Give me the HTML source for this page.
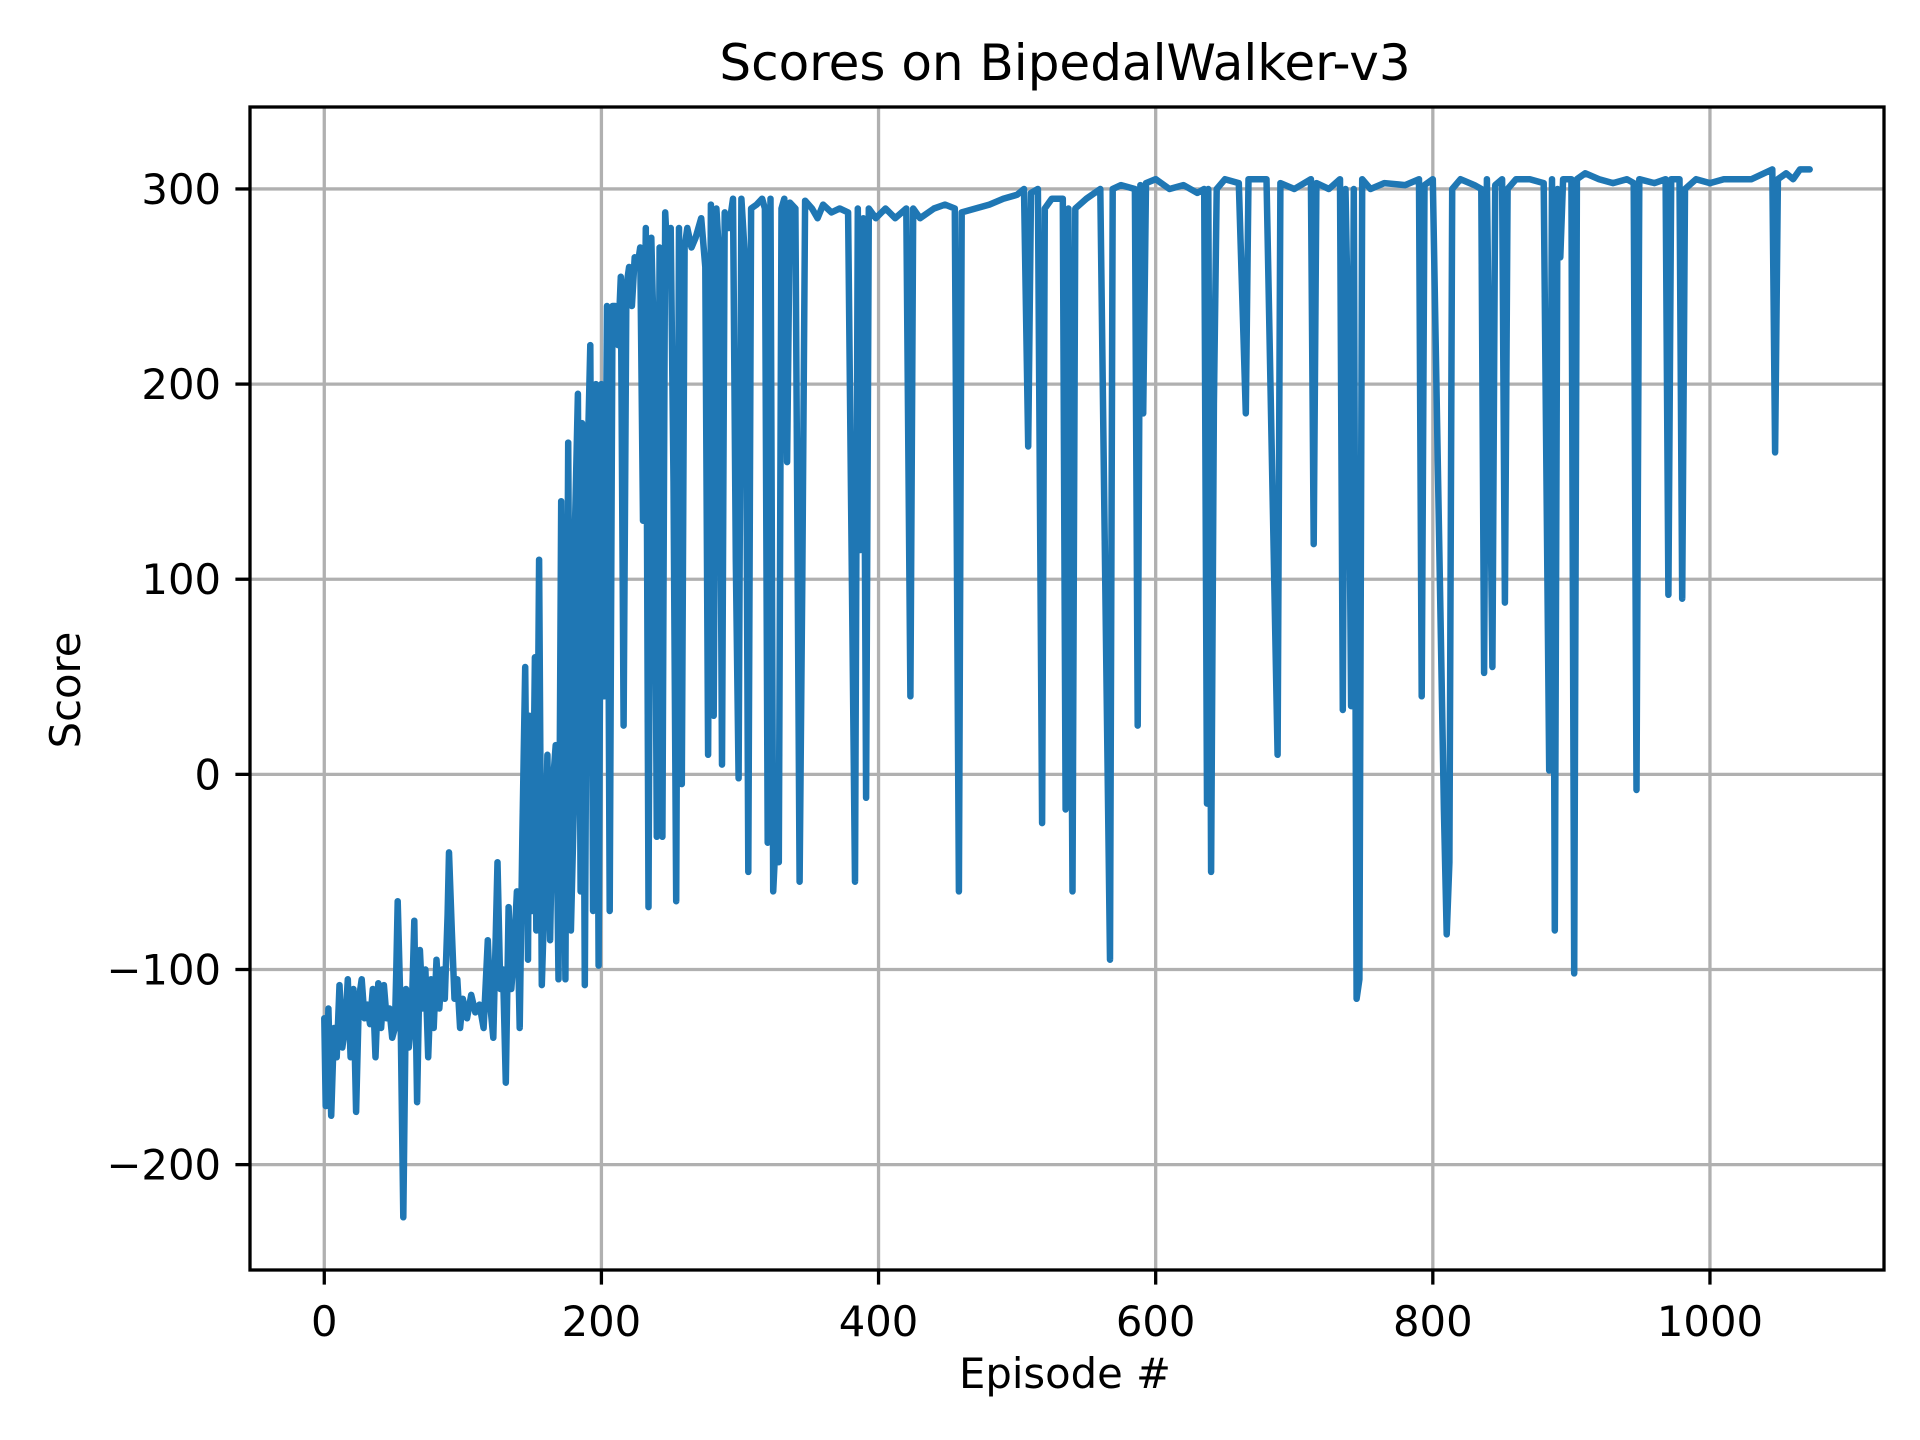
<!DOCTYPE html>
<html><head><meta charset="utf-8"><style>
html,body{margin:0;padding:0;background:#fff}
svg{display:block;font-family:"DejaVu Sans","Liberation Sans",sans-serif}
</style></head><body>
<svg id="chart" width="1920" height="1440" viewBox="0 0 1920 1440">
<rect width="1920" height="1440" fill="#fff"/>
<g id="grid"></g>
<g id="series"></g>
<rect x="250" y="107" width="1634" height="1163" fill="none" stroke="#000" stroke-width="3.3"/>
<g id="ticks"></g>
<text x="1065" y="80" font-size="50" text-anchor="middle">Scores on BipedalWalker-v3</text>
<text x="1065" y="1388" font-size="41.7" text-anchor="middle">Episode #</text>
<text x="0" y="0" font-size="41.7" text-anchor="middle" transform="translate(80,690) rotate(-90)">Score</text>
</svg>
<script>
const xTicks=[0,200,400,600,800,1000];
const yTicks=[-200,-100,0,100,200,300];
const yTickLabels=["\u2212200","\u2212100","0","100","200","300"];
const episodes=[0,1,3,5,7,9,11,13,15,17,19,21,23,25,27,29,31,33,35,37,39,41,43,45,47,49,51,52,53,55,57,59,61,63,65,67,69,71,73,75,77,79,81,83,85,87,89,90,92,94,96,98,100,103,106,109,112,115,118,120,122,125,127,129,131,133,135,137,139,141,143,145,147,148,150,152,153,155,157,159,161,163,165,167,169,171,172,174,176,178,180,181,183,185,186,188,190,192,194,196,198,200,202,204,206,208,210,212,214,216,218,220,222,224,226,228,230,232,234,236,238,240,242,244,246,248,250,252,254,256,258,260,262,265,268,272,275,277,279,281,283,285,287,289,292,295,297,299,301,304,306,308,312,316,318,320,322,324,326,328,330,332,334,336,340,343,345,347,352,356,360,366,372,378,383,385,387,389,391,393,398,405,412,420,423,425,430,440,448,455,458,460,470,480,490,500,505,508,510,515,518,520,525,533,535,537,540,542,550,560,567,569,575,585,587,589,591,593,600,610,620,630,635,637,638,640,642,644,650,660,665,667,680,688,690,700,712,714,716,725,733,735,737,739,741,743,745,747,749,755,765,780,790,792,794,800,808,810,812,814,820,830,835,837,839,843,845,850,852,854,860,870,880,884,886,888,890,892,894,900,902,904,910,920,930,940,945,947,949,960,968,970,972,978,980,982,990,1000,1010,1020,1030,1045,1047,1049,1055,1060,1065,1072];
const scores=[-125,-170,-120,-175,-130,-145,-108,-140,-130,-105,-145,-110,-173,-115,-105,-125,-118,-128,-110,-145,-107,-130,-108,-125,-120,-135,-130,-100,-65,-120,-227,-110,-140,-125,-75,-168,-90,-120,-100,-145,-105,-130,-95,-120,-100,-115,-72,-40,-80,-115,-105,-130,-115,-125,-113,-122,-118,-130,-85,-120,-135,-45,-110,-100,-158,-68,-110,-90,-60,-130,-30,55,-95,30,-70,60,-80,110,-108,-60,10,-85,-5,15,-105,140,60,-105,170,-80,-20,130,195,-60,180,-108,160,220,-70,200,-98,200,40,240,-70,240,240,220,255,25,250,260,240,265,260,270,130,280,-68,275,215,-32,270,-32,288,260,280,150,-65,280,-5,270,280,270,275,285,260,10,292,30,290,265,5,288,280,295,110,-2,295,260,-50,290,292,295,290,-35,295,-60,-30,-45,290,295,160,293,290,-55,100,294,290,285,292,288,290,288,-55,290,115,285,-12,290,285,290,285,290,40,290,285,290,292,290,-60,288,290,292,295,297,300,168,298,300,-25,290,295,295,-18,290,-60,290,295,300,-95,300,302,300,25,302,185,303,305,300,302,298,300,-15,300,-50,190,300,305,303,185,305,305,10,303,300,305,118,303,300,305,33,300,220,35,300,-115,-105,305,300,303,302,305,40,302,305,-18,-82,-45,300,305,302,300,52,305,55,302,305,88,300,305,305,303,2,305,-80,300,265,305,305,-102,305,308,305,303,305,303,-8,305,303,305,92,305,305,90,300,305,303,305,305,305,310,165,305,308,305,310,310];
const NS="http://www.w3.org/2000/svg";
const X0=250,X1=1884,Y0=107,Y1=1270;
const xMin=-53.6,xMax=1125.6,yMin=-254,yMax=342;
function sx(v){return X0+(v-xMin)/(xMax-xMin)*(X1-X0);}
function sy(v){return Y1-(v-yMin)/(yMax-yMin)*(Y1-Y0);}
const grid=document.getElementById('grid'),ticks=document.getElementById('ticks'),series=document.getElementById('series');
xTicks.forEach(t=>{
  const x=sx(t);
  const g=document.createElementNS(NS,'line');
  g.setAttribute('x1',x);g.setAttribute('x2',x);g.setAttribute('y1',Y0);g.setAttribute('y2',Y1);
  g.setAttribute('stroke','#b0b0b0');g.setAttribute('stroke-width','3.3');
  
  
  grid.appendChild(g);
  const tk=document.createElementNS(NS,'line');
  tk.setAttribute('x1',x);tk.setAttribute('x2',x);tk.setAttribute('y1',Y1);tk.setAttribute('y2',Y1+14.6);
  tk.setAttribute('stroke','#000');tk.setAttribute('stroke-width','3.3');
  
  
  ticks.appendChild(tk);
  const tx=document.createElementNS(NS,'text');
  tx.setAttribute('x',x);tx.setAttribute('y',Y1+66);tx.setAttribute('font-size','41.7');tx.setAttribute('text-anchor','middle');
  tx.textContent=String(t);
  
  
  ticks.appendChild(tx);
});
yTicks.forEach((t,i)=>{
  const y=sy(t);
  const g=document.createElementNS(NS,'line');
  g.setAttribute('x1',X0);g.setAttribute('x2',X1);g.setAttribute('y1',y);g.setAttribute('y2',y);
  g.setAttribute('stroke','#b0b0b0');g.setAttribute('stroke-width','3.3');
  
  
  grid.appendChild(g);
  const tk=document.createElementNS(NS,'line');
  tk.setAttribute('x1',X0-14.6);tk.setAttribute('x2',X0);tk.setAttribute('y1',y);tk.setAttribute('y2',y);
  tk.setAttribute('stroke','#000');tk.setAttribute('stroke-width','3.3');
  
  
  ticks.appendChild(tk);
  const tx=document.createElementNS(NS,'text');
  tx.setAttribute('x',X0-29);tx.setAttribute('y',y+15);tx.setAttribute('font-size','41.7');tx.setAttribute('text-anchor','end');
  tx.textContent=yTickLabels[i];
  
  
  ticks.appendChild(tx);
});
const pts=episodes.map((e,i)=>sx(e).toFixed(1)+','+sy(scores[i]).toFixed(1)).join(' ');
const pl=document.createElementNS(NS,'polyline');
pl.setAttribute('points',pts);
pl.setAttribute('fill','none');pl.setAttribute('stroke','#1f77b4');pl.setAttribute('stroke-width','6.5');
pl.setAttribute('stroke-linejoin','round');pl.setAttribute('stroke-linecap','round');


series.appendChild(pl);
</script>
</body></html>
